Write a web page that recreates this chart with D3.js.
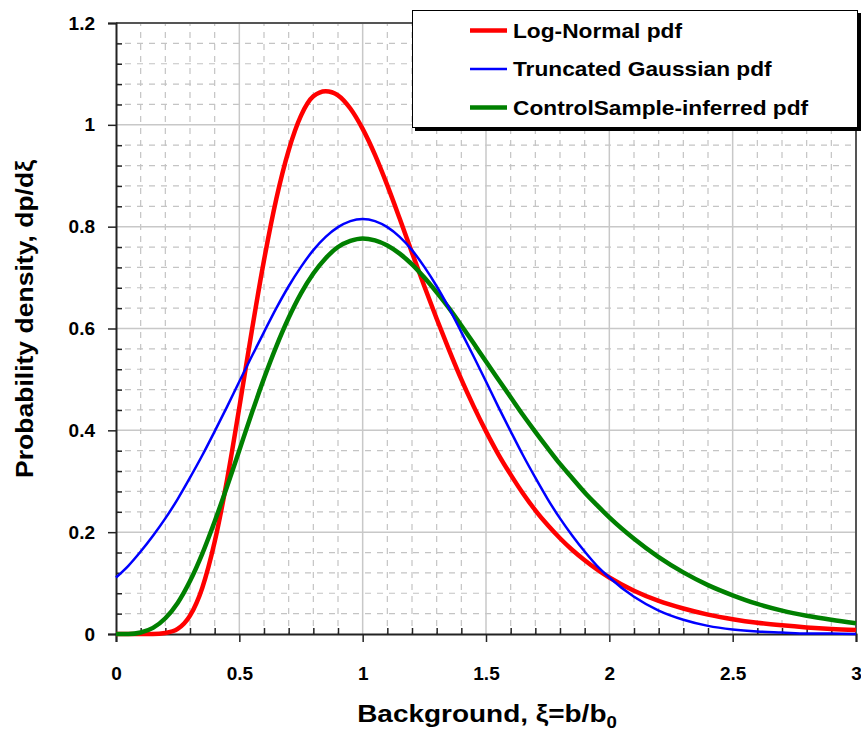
<!DOCTYPE html>
<html>
<head>
<meta charset="utf-8">
<script src="https://cdn.jsdelivr.net/npm/d3@7"></script>
<style>
  body { margin: 0; background: #fff; }
  text { font-family: Arial, "Liberation Sans", sans-serif; font-weight: bold; fill: #000; }
</style>
</head>
<body>
<div id="graph"></div>
<script>
// valeurs
const xi = [0, 0.05, 0.1, 0.15, 0.2, 0.25, 0.3, 0.35, 0.4, 0.45, 0.5, 0.55, 0.6, 0.65, 0.7, 0.75, 0.8, 0.85, 0.9, 0.95,
  1.0, 1.05, 1.1, 1.15, 1.2, 1.25, 1.3, 1.35, 1.4, 1.45, 1.5, 1.55, 1.6, 1.65, 1.7, 1.75, 1.8, 1.85, 1.9, 1.95,
  2.0, 2.1, 2.2, 2.3, 2.4, 2.5, 2.6, 2.7, 2.8, 2.9, 3.0];

const logNormal = [0, 0, 0, 0, 0.002, 0.010, 0.036, 0.091, 0.181, 0.302, 0.445, 0.594, 0.734, 0.855, 0.950, 1.018, 1.056, 1.066, 1.058, 1.032,
  0.992, 0.941, 0.881, 0.816, 0.749, 0.683, 0.619, 0.558, 0.500, 0.447, 0.398, 0.353, 0.313, 0.276, 0.243, 0.214, 0.188, 0.165, 0.145, 0.127,
  0.111, 0.085, 0.065, 0.050, 0.038, 0.029, 0.022, 0.017, 0.013, 0.010, 0.008];

const truncGauss = [0.111, 0.134, 0.162, 0.193, 0.227, 0.265, 0.307, 0.351, 0.398, 0.446, 0.496, 0.545, 0.593, 0.640, 0.683, 0.721, 0.754, 0.780, 0.799, 0.811,
  0.815, 0.811, 0.799, 0.780, 0.754, 0.721, 0.683, 0.640, 0.593, 0.545, 0.496, 0.446, 0.398, 0.351, 0.307, 0.265, 0.227, 0.193, 0.162, 0.134,
  0.111, 0.073, 0.046, 0.028, 0.016, 0.009, 0.005, 0.003, 0.001, 0.001, 0.000];

const controlSample = [0, 0, 0.003, 0.012, 0.031, 0.061, 0.104, 0.158, 0.221, 0.289, 0.361, 0.433, 0.502, 0.565, 0.621, 0.669, 0.708, 0.738, 0.760, 0.772,
  0.777, 0.773, 0.763, 0.747, 0.726, 0.700, 0.671, 0.640, 0.606, 0.571, 0.535, 0.500, 0.465, 0.430, 0.397, 0.365, 0.334, 0.306, 0.278, 0.253,
  0.229, 0.187, 0.151, 0.121, 0.096, 0.076, 0.059, 0.046, 0.036, 0.028, 0.021];

const seriesNames = ["Log-Normal pdf", "Truncated Gaussian pdf", "ControlSample-inferred pdf"];
const xTicks = [0, 0.5, 1, 1.5, 2, 2.5, 3];
const yTicks = [0, 0.2, 0.4, 0.6, 0.8, 1, 1.2];

const margin = { top: 23, right: 5, bottom: 99, left: 116 };
const width = 861 - margin.left - margin.right;
const height = 733 - margin.top - margin.bottom;

const svg = d3.select("#graph")
  .append("svg")
  .attr("width", 861)
  .attr("height", 733);

const g = svg.append("g")
  .attr("transform", "translate(" + margin.left + "," + margin.top + ")");

const x = d3.scaleLinear().domain([0, 3]).range([0, width]);
const y = d3.scaleLinear().domain([0, 1.2]).range([height, 0]);

//////// grille secondaire (pointillés)
const xMinor = d3.range(1, 30).map(i => i / 10).filter(v => Math.abs(v * 2 - Math.round(v * 2)) > 1e-6);
const yMinor = d3.range(1, 30).map(i => i * 0.04).filter(v => Math.abs(v * 5 - Math.round(v * 5)) > 1e-6);

g.selectAll(".vminor")
  .data(xMinor)
  .enter()
  .append("line")
  .attr("x1", d => x(d)).attr("x2", d => x(d))
  .attr("y1", 0).attr("y2", height)
  .attr("stroke", "#c4c4c4")
  .attr("stroke-width", 1.2)
  .attr("stroke-dasharray", "6,6")
  .attr("stroke-dashoffset", 3);

g.selectAll(".hminor")
  .data(yMinor)
  .enter()
  .append("line")
  .attr("x1", 0).attr("x2", width)
  .attr("y1", d => y(d)).attr("y2", d => y(d))
  .attr("stroke", "#c4c4c4")
  .attr("stroke-width", 1.2)
  .attr("stroke-dasharray", "6,6")
  .attr("stroke-dashoffset", 3);

//////// grille principale
g.selectAll(".vmajor")
  .data(xTicks.slice(1, -1))
  .enter()
  .append("line")
  .attr("x1", d => x(d)).attr("x2", d => x(d))
  .attr("y1", 0).attr("y2", height)
  .attr("stroke", "#c8c8c8")
  .attr("stroke-width", 1.5);

g.selectAll(".hmajor")
  .data(yTicks.slice(1, -1))
  .enter()
  .append("line")
  .attr("x1", 0).attr("x2", width)
  .attr("y1", d => y(d)).attr("y2", d => y(d))
  .attr("stroke", "#c8c8c8")
  .attr("stroke-width", 1.5);

// bord haut et droit
g.append("line")
  .attr("x1", 0).attr("x2", width).attr("y1", 0).attr("y2", 0)
  .attr("stroke", "#555").attr("stroke-width", 2);
g.append("line")
  .attr("x1", width).attr("x2", width).attr("y1", 0).attr("y2", height)
  .attr("stroke", "#555").attr("stroke-width", 2);

//////// axes
const xAxis = g.append("g")
  .attr("transform", "translate(0," + height + ")")
  .call(d3.axisBottom(x).tickValues(xTicks).tickSize(8).tickFormat(d3.format("")));
xAxis.select(".domain").attr("stroke", "#222").attr("stroke-width", 2);
xAxis.selectAll(".tick line").attr("stroke", "#222").attr("stroke-width", 1.5);
xAxis.selectAll("text")
  .attr("dy", "0")
  .attr("y", 46)
  .style("font-size", "19px")
  .style("font-family", "Arial, 'Liberation Sans', sans-serif")
  .style("font-weight", "bold");

// petits ticks vers l'intérieur
g.append("g")
  .attr("transform", "translate(0," + height + ")")
  .call(d3.axisTop(x).tickValues(xMinor).tickSize(6).tickFormat(""))
  .call(a => a.select(".domain").remove())
  .selectAll(".tick line").attr("stroke", "#222").attr("stroke-width", 1.5);

const yAxis = g.append("g")
  .call(d3.axisLeft(y).tickValues(yTicks).tickSize(8).tickFormat(d3.format("")));
yAxis.select(".domain").attr("stroke", "#222").attr("stroke-width", 2);
yAxis.selectAll(".tick line").attr("stroke", "#222").attr("stroke-width", 1.5);
yAxis.selectAll("text")
  .attr("x", -21)
  .style("font-size", "19px")
  .style("font-family", "Arial, 'Liberation Sans', sans-serif")
  .style("font-weight", "bold");

g.append("g")
  .call(d3.axisRight(y).tickValues(yMinor).tickSize(6).tickFormat(""))
  .call(a => a.select(".domain").remove())
  .selectAll(".tick line").attr("stroke", "#222").attr("stroke-width", 1.5);

//////// courbes
const data = [
  { nom: seriesNames[0], valeurs: logNormal, couleur: "#ff0000", epaisseur: 4.5 },
  { nom: seriesNames[1], valeurs: truncGauss, couleur: "#0000ff", epaisseur: 2.5 },
  { nom: seriesNames[2], valeurs: controlSample, couleur: "#008000", epaisseur: 4.5 }
];

const line = d3.line()
  .x((d, i) => x(xi[i]))
  .y(d => y(d))
  .curve(d3.curveMonotoneX);

// ordre de dessin : rouge, vert, bleu par-dessus
[0, 2, 1].forEach(k => {
  g.append("path")
    .datum(data[k].valeurs)
    .attr("fill", "none")
    .attr("stroke", data[k].couleur)
    .attr("stroke-width", data[k].epaisseur)
    .attr("stroke-linejoin", "round")
    .attr("d", line);
});

//////// titres des axes
const xTitle = svg.append("text")
  .attr("transform", "translate(487,722) scale(1.165,1)")
  .attr("text-anchor", "middle")
  .style("font-size", "24px");
xTitle.append("tspan").text("Background, \u03be=b/b");
xTitle.append("tspan").attr("dy", 6).style("font-size", "16px").text("0");

svg.append("text")
  .attr("transform", "translate(33,319) rotate(-90)")
  .attr("text-anchor", "middle")
  .attr("textLength", 318)
  .attr("lengthAdjust", "spacingAndGlyphs")
  .style("font-size", "24px")
  .text("Probability density, dp/d\u03be");

//////// légende
const leg = svg.append("g");
leg.append("rect")
  .attr("x", 415).attr("y", 13)
  .attr("width", 446).attr("height", 118)
  .attr("fill", "#000");
leg.append("rect")
  .attr("x", 412.5).attr("y", 10.5)
  .attr("width", 445).attr("height", 117)
  .attr("fill", "#fff")
  .attr("stroke", "#000")
  .attr("stroke-width", 1);

data.forEach((d, i) => {
  const ly = 30.5 + i * 38.5;
  leg.append("line")
    .attr("x1", 470).attr("x2", 507)
    .attr("y1", ly).attr("y2", ly)
    .attr("stroke", d.couleur)
    .attr("stroke-width", d.epaisseur);
  leg.append("text")
    .attr("transform", "translate(513," + (ly + 7) + ") scale(1.165,1)")
    .style("font-size", "19.5px")
    .text(d.nom);
});
</script>
</body>
</html>
